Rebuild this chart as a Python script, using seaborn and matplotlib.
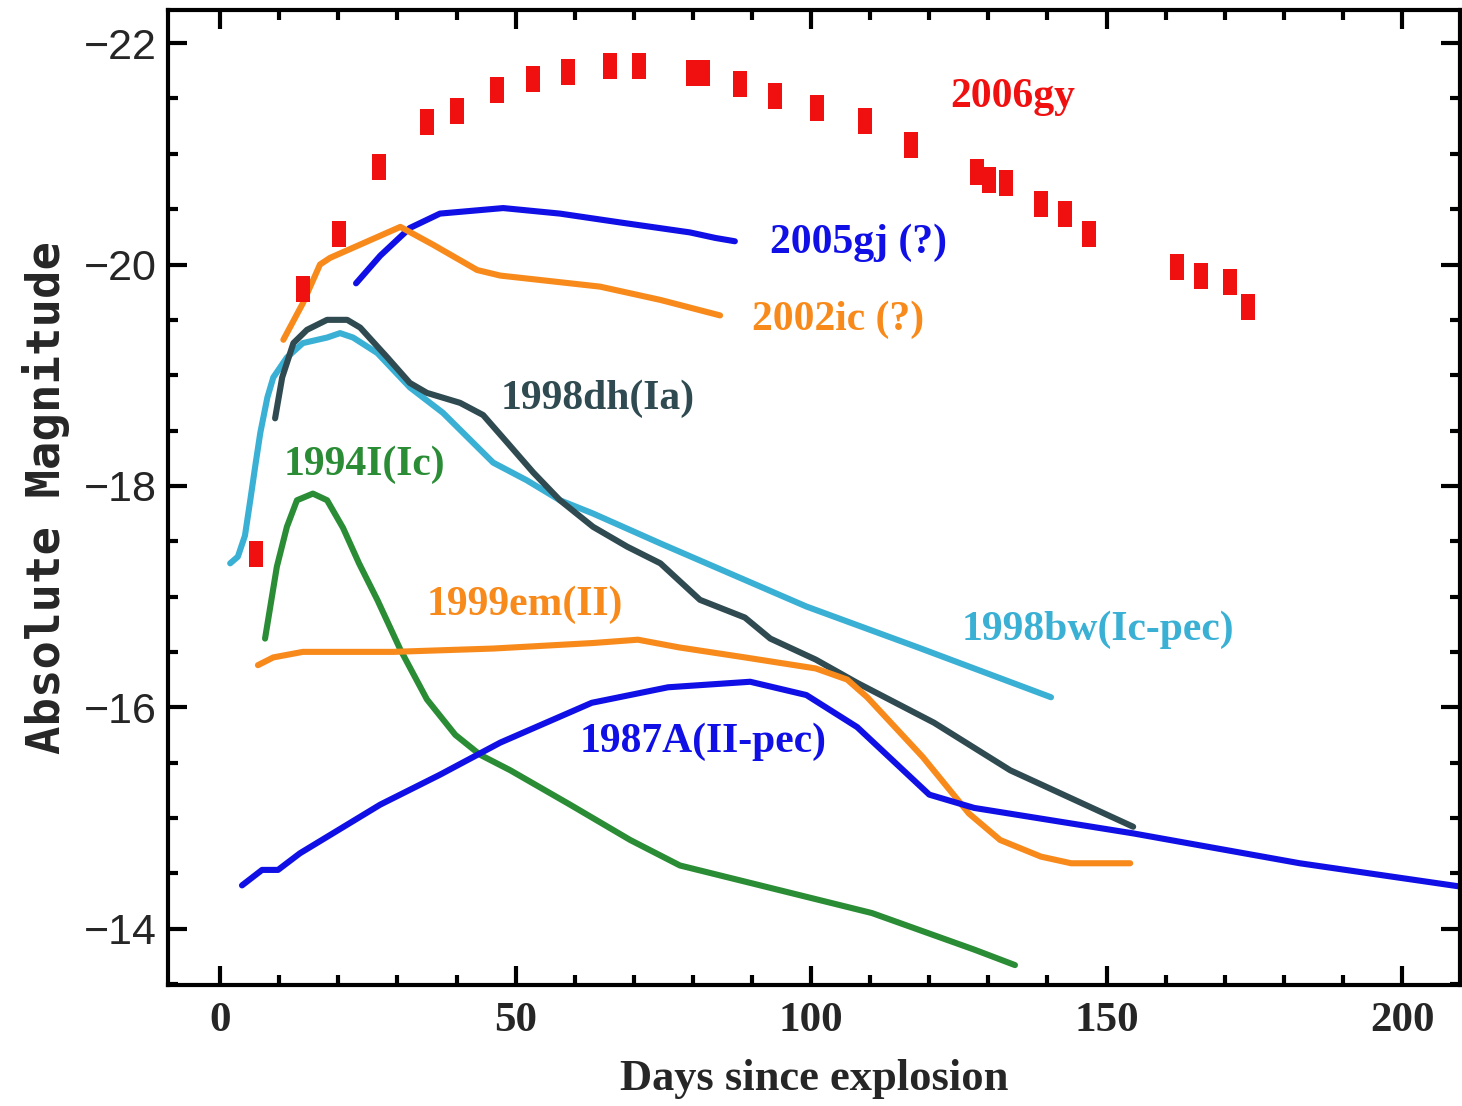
import numpy as np
import pandas as pd
import matplotlib
matplotlib.use("Agg")
import matplotlib.pyplot as plt
from matplotlib.ticker import MultipleLocator
import seaborn as sns

sns.set_theme(style="ticks")

# --- datos ---
gy_days = [6.1, 14.0, 20.1, 26.9, 35.0, 40.1, 46.9, 53.0, 58.9, 66.0, 70.9, 80.0, 81.7,
           88.0, 93.9, 101.0, 109.1, 116.9, 128.1, 130.1, 133.0, 138.9, 143.0, 147.0,
           161.9, 166.0, 170.9, 173.9]
gy_mag = [-17.38, -19.78, -20.28, -20.88, -21.29, -21.39, -21.58, -21.68, -21.74, -21.79,
          -21.79, -21.73, -21.73, -21.63, -21.52, -21.41, -21.30, -21.08, -20.84, -20.76,
          -20.74, -20.55, -20.46, -20.28, -19.98, -19.90, -19.84, -19.62]

gj_days = [23.0, 27.1, 32.1, 37.2, 47.9, 57.5, 67.7, 79.5, 83.8, 87.1]
gj_mag = [-19.83, -20.08, -20.33, -20.46, -20.51, -20.46, -20.38, -20.29, -20.24, -20.21]

ic_days = [10.7, 14.0, 16.9, 18.6, 30.5, 36.0, 43.5, 47.4, 64.3, 74.5, 84.6]
ic_mag = [-19.32, -19.65, -20.00, -20.06, -20.34, -20.18, -19.95, -19.90, -19.80, -19.68, -19.54]

dh_days = [9.3, 10.5, 12.4, 14.7, 18.1, 21.5, 23.7, 28.3, 32.1, 35.0, 40.6, 44.5, 48.6, 53.0,
           57.5, 63.1, 68.9, 74.5, 81.2, 88.8, 93.1, 100.8, 107.8, 120.8, 133.7, 154.5]
dh_mag = [-18.61, -18.98, -19.29, -19.41, -19.50, -19.50, -19.43, -19.16, -18.93, -18.84, -18.75,
          -18.64, -18.39, -18.12, -17.87, -17.63, -17.45, -17.30, -16.97, -16.81, -16.62,
          -16.43, -16.22, -15.86, -15.43, -14.92]

bw_days = [1.7, 3.0, 4.2, 5.1, 6.0, 6.8, 8.0, 9.0, 11.3, 14.0, 18.1, 20.3, 22.5, 26.6, 32.1,
           37.7, 46.2, 51.9, 57.5, 63.1, 74.5, 99.2, 118.1, 140.6]
bw_mag = [-17.30, -17.36, -17.55, -17.87, -18.20, -18.48, -18.80, -18.98, -19.16, -19.29,
          -19.34, -19.38, -19.34, -19.20, -18.89, -18.66, -18.21, -18.05, -17.87, -17.75,
          -17.48, -16.91, -16.54, -16.09]

i_days = [7.6, 9.6, 11.3, 13.0, 15.7, 18.1, 20.8, 23.5, 26.6, 30.5, 35.0, 39.8, 44.0, 49.1,
          59.2, 69.4, 77.8, 110.3, 127.6, 134.5]
i_mag = [-16.62, -17.27, -17.63, -17.87, -17.93, -17.87, -17.62, -17.30, -16.97, -16.52,
         -16.07, -15.75, -15.57, -15.43, -15.12, -14.80, -14.57, -14.14, -13.81, -13.67]

em_days = [6.4, 9.0, 14.0, 29.3, 46.2, 63.1, 70.7, 77.7, 88.8, 100.8, 106.1, 109.5, 118.9,
           126.7, 132.0, 138.9, 144.0, 154.0]
em_mag = [-16.38, -16.45, -16.50, -16.50, -16.53, -16.58, -16.61, -16.54, -16.45, -16.35,
          -16.25, -16.09, -15.55, -15.04, -14.80, -14.65, -14.59, -14.59]

a_days = [3.7, 7.1, 9.8, 13.5, 27.1, 37.2, 47.4, 62.9, 75.8, 89.7, 99.2, 107.8, 120.0,
          127.6, 154.5, 182.7, 209.8]
a_mag = [-14.39, -14.53, -14.53, -14.68, -15.12, -15.39, -15.68, -16.04, -16.18, -16.23,
         -16.11, -15.82, -15.21, -15.09, -14.86, -14.59, -14.38]

RED = "#f01010"
BLUE = "#1010e6"
ORANGE = "#f88a1c"
SLATE = "#2f4a50"
LIGHTBLUE = "#3ab0d4"
GREEN = "#2a8c35"

curves = [
    (gj_days, gj_mag, BLUE),
    (ic_days, ic_mag, ORANGE),
    (bw_days, bw_mag, LIGHTBLUE),
    (dh_days, dh_mag, SLATE),
    (i_days, i_mag, GREEN),
    (em_days, em_mag, ORANGE),
    (a_days, a_mag, BLUE),
]

labels = [
    ("2006gy", 123.5, -21.51, RED),
    ("2005gj (?)", 93.1, -20.2, BLUE),
    ("2002ic (?)", 90.0, -19.5, ORANGE),
    ("1998dh(Ia)", 47.4, -18.79, SLATE),
    ("1994I(Ic)", 10.7, -18.19, GREEN),
    ("1999em(II)", 35.0, -16.93, ORANGE),
    ("1998bw(Ic-pec)", 125.5, -16.70, LIGHTBLUE),
    ("1987A(II-pec)", 60.9, -15.69, BLUE),
]

fig = plt.figure(figsize=(14.62, 11.06), dpi=100)
ax = fig.add_axes([0.115, 0.1094, 0.8836, 0.8816])

for d, m, c in curves:
    sns.lineplot(x=d, y=m, ax=ax, color=c, lw=4.4, sort=False, estimator=None)

rect = [(-0.27, -0.5), (0.27, -0.5), (0.27, 0.5), (-0.27, 0.5), (-0.27, -0.5)]
sns.scatterplot(x=gy_days, y=gy_mag, ax=ax, marker=rect, s=350, color=RED,
                linewidth=0, zorder=5)

for txt, x, y, c in labels:
    ax.text(x, y, txt, color=c, fontsize=30, fontweight="bold",
            family="Liberation Serif", va="center", ha="left")

ax.set_xlim(-8.8, 209.8)
ax.set_ylim(-13.49, -22.3)

ax.xaxis.set_major_locator(MultipleLocator(50))
ax.xaxis.set_minor_locator(MultipleLocator(10))
ax.yaxis.set_major_locator(MultipleLocator(2))
ax.yaxis.set_minor_locator(MultipleLocator(0.5))

ax.tick_params(which="both", direction="in", top=True, right=True, width=3, color="black")
ax.tick_params(which="major", length=14)
ax.tick_params(which="minor", length=7)
ax.tick_params(axis="x", which="major", pad=12)
ax.tick_params(axis="y", which="major", pad=8)

for lab in ax.get_xticklabels():
    lab.set_fontfamily("Liberation Serif")
    lab.set_fontweight("bold")
    lab.set_fontsize(31)
for lab in ax.get_yticklabels():
    lab.set_fontfamily("Liberation Sans")
    lab.set_fontsize(31)

for sp in ax.spines.values():
    sp.set_linewidth(3)
    sp.set_color("black")

ax.set_xlabel("Days since explosion", fontsize=32, fontweight="bold",
              family="Liberation Serif", labelpad=14)
ax.set_ylabel("Absolute Magnitude", fontsize=34, fontweight="bold",
              family="DejaVu Sans Mono", labelpad=10)

fig.savefig("out.png", dpi=100, facecolor="white")
